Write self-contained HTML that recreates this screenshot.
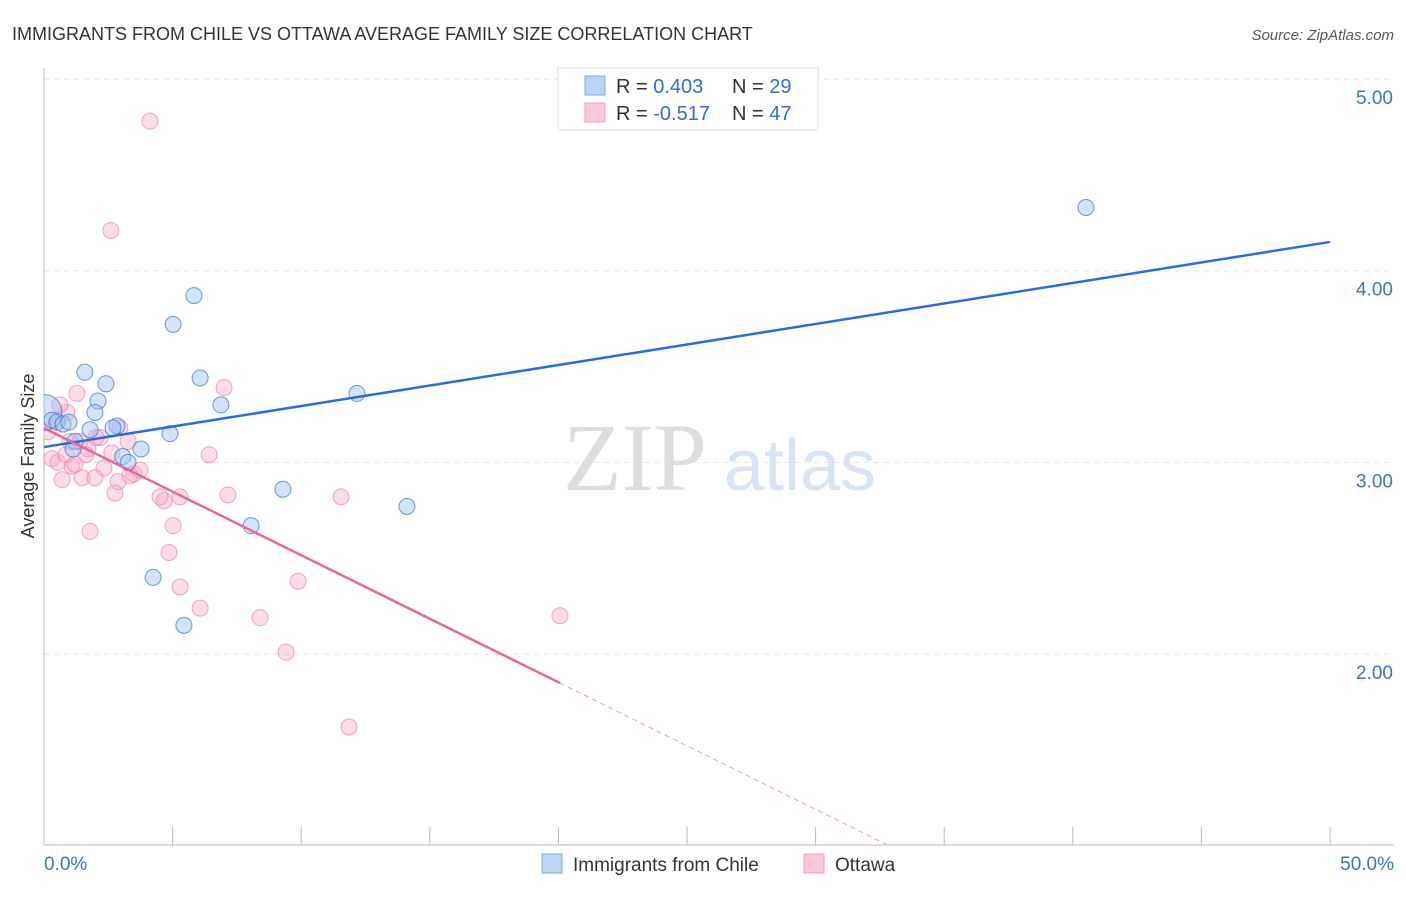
<!DOCTYPE html>
<html><head><meta charset="utf-8"><style>
body{margin:0;background:#fff;font-family:"Liberation Sans",sans-serif}
</style></head><body>
<svg id="chart" width="1406" height="892" xmlns="http://www.w3.org/2000/svg" font-family="Liberation Sans, sans-serif">
<defs><clipPath id="plotclip"><rect x="44" y="60" width="1360" height="786"/></clipPath></defs>
<text x="12" y="40" font-size="18" fill="#333">IMMIGRANTS FROM CHILE VS OTTAWA AVERAGE FAMILY SIZE CORRELATION CHART</text>
<text x="1394" y="40" font-size="15" fill="#555" font-style="italic" text-anchor="end">Source: ZipAtlas.com</text>
<text x="0" y="0" transform="translate(34,456) rotate(-90)" font-size="18" fill="#333" text-anchor="middle">Average Family Size</text>
<g><text x="635" y="490" font-size="96" fill="#ddd" font-family="Liberation Serif, serif" text-anchor="middle">ZIP</text><text x="800" y="490" font-size="72" fill="#d6e4f5" text-anchor="middle">atlas</text></g>
<g id="grid"></g><g id="axes"></g><g id="pts" clip-path="url(#plotclip)"></g><g id="lines"></g>
<g>
<rect x="558" y="68" width="260" height="62" fill="#fff" stroke="#ddd"/>
<rect x="585" y="76" width="20" height="19" fill="#b9d4f5" stroke="#7fa9e0"/>
<rect x="585" y="103" width="20" height="19" fill="#fcc7d6" stroke="#f0a0b8"/>
<text x="616" y="93" font-size="20" fill="#333">R = <tspan fill="#2f6fd0">0.403</tspan></text>
<text x="732" y="93" font-size="20" fill="#333">N = <tspan fill="#2f6fd0">29</tspan></text>
<text x="616" y="120" font-size="20" fill="#333">R = <tspan fill="#2f6fd0">-0.517</tspan></text>
<text x="732" y="120" font-size="20" fill="#333">N = <tspan fill="#2f6fd0">47</tspan></text>
</g>
<g>
<rect x="542" y="854" width="20" height="19" fill="#b9d4f5" stroke="#7fa9e0"/>
<text x="573" y="871" font-size="19" fill="#333">Immigrants from Chile</text>
<rect x="804" y="854" width="20" height="19" fill="#fcc7d6" stroke="#f0a0b8"/>
<text x="835" y="871" font-size="19" fill="#333">Ottawa</text>
</g>
</svg>
<script>
const yTicks=[2,3,4,5];
const yTickLabels=["2.00","3.00","4.00","5.00"];
const xTicks=[0,5,10,15,20,25,30,35,40,45,50];
const blueX=[0,0.31,0.51,0.74,0.97,1.59,2.41,2.10,1.98,1.79,2.84,2.68,1.21,1.13,3.06,3.27,3.77,4.90,5.02,5.83,6.07,6.88,4.24,5.44,8.05,9.29,12.17,14.11,40.51];
const blueY=[3.26,3.22,3.21,3.20,3.21,3.47,3.41,3.32,3.26,3.17,3.19,3.18,3.11,3.07,3.03,3.00,3.07,3.15,3.72,3.87,3.44,3.30,2.40,2.15,2.67,2.86,3.36,2.77,4.33];
const blueR=[18,8,8,8,8,8,8,8,8,8,8,8,8,8,8,8,8,8,8,8,8,8,8,8,8,8,8,8,8];
const pinkX=[4.12,2.60,1.28,7.00,0.89,0.47,0.16,1.01,1.40,2.95,3.27,1.71,2.64,0.31,0.54,1.09,2.33,1.48,0.70,1.98,2.88,3.50,3.34,2.76,6.42,7.15,11.55,4.67,5.29,5.02,4.86,1.79,5.29,6.07,8.40,9.88,9.41,11.86,20.06,0.62,2.18,1.63,0.86,2.02,3.73,1.21,4.51];
const pinkY=[4.78,4.21,3.36,3.39,3.26,3.22,3.16,3.11,3.11,3.18,3.11,3.07,3.05,3.02,3.00,2.98,2.97,2.92,2.91,2.92,2.90,2.94,2.93,2.84,3.04,2.83,2.82,2.80,2.82,2.67,2.53,2.64,2.35,2.24,2.19,2.38,2.01,1.62,2.20,3.30,3.13,3.04,3.04,3.13,2.96,2.99,2.82];
const blueLine=[3.08,4.15];
const pinkLine=[3.179,-0.0663];
const X0=44,X1=1330,Ypx5=79,UNIT=191.7;
const sx=v=>X0+(v/50)*(X1-X0);
const sy=v=>Ypx5+(5-v)*UNIT;
const NS="http://www.w3.org/2000/svg";
function mk(tag,attrs,parent){const e=document.createElementNS(NS,tag);for(const k in attrs)e.setAttribute(k,attrs[k]);document.getElementById(parent).appendChild(e);return e;}
yTicks.forEach((t,i)=>{
 const g=mk('line',{x1:44,x2:1394,y1:sy(t),y2:sy(t),stroke:'#e2e2e2','stroke-dasharray':'5,5'},'grid');
 
 
 const tx=mk('text',{x:1393,y:sy(t)+25,'font-size':19,fill:'#3b73c8','text-anchor':'end'},'axes');
 tx.textContent=yTickLabels[i];
 
 
});
const topGrid=mk('line',{x1:44,x2:1394,y1:79,y2:79,stroke:'#e2e2e2','stroke-dasharray':'5,5'},'grid');


const ya=mk('line',{x1:44,x2:44,y1:68,y2:845,stroke:'#bbb'},'axes');


const xa=mk('line',{x1:44,x2:1394,y1:845,y2:845,stroke:'#bbb'},'axes');


xTicks.forEach(t=>{
 const l=mk('line',{x1:sx(t),x2:sx(t),y1:827,y2:845,stroke:'#bbb'},'axes');
 
 
});
const xl0=mk('text',{x:44,y:870,'font-size':19,fill:'#3b73c8'},'axes');xl0.textContent='0.0%';


const xl1=mk('text',{x:1394,y:870,'font-size':19,fill:'#3b73c8','text-anchor':'end'},'axes');xl1.textContent='50.0%';


pinkX.forEach((v,i)=>{
 const c=mk('circle',{cx:sx(v),cy:sy(pinkY[i]),r:8,fill:'rgba(248,170,195,0.4)',stroke:'rgba(235,130,165,0.7)','stroke-width':1},'pts');
 
 
});
blueX.forEach((v,i)=>{
 const c=mk('circle',{cx:sx(v),cy:sy(blueY[i]),r:blueR[i],fill:'rgba(160,195,240,0.45)',stroke:'rgba(60,120,210,0.75)','stroke-width':1},'pts');
 
 
});
const bl=mk('line',{x1:sx(0),y1:sy(blueLine[0]),x2:sx(50),y2:sy(blueLine[1]),stroke:'#2a6fd6','stroke-width':2.5},'lines');


const pend=20.06;
const pl=mk('line',{x1:sx(0),y1:sy(pinkLine[0]),x2:sx(pend),y2:sy(pinkLine[0]+pinkLine[1]*pend),stroke:'#e8679a','stroke-width':2.5},'lines');


const xe=(1.004-pinkLine[0])/pinkLine[1];
const pd=mk('line',{x1:sx(pend),y1:sy(pinkLine[0]+pinkLine[1]*pend),x2:sx(xe),y2:sy(1.004),stroke:'#e8a0bb','stroke-width':1,'stroke-dasharray':'5,4'},'lines');


</script>
</body></html>
